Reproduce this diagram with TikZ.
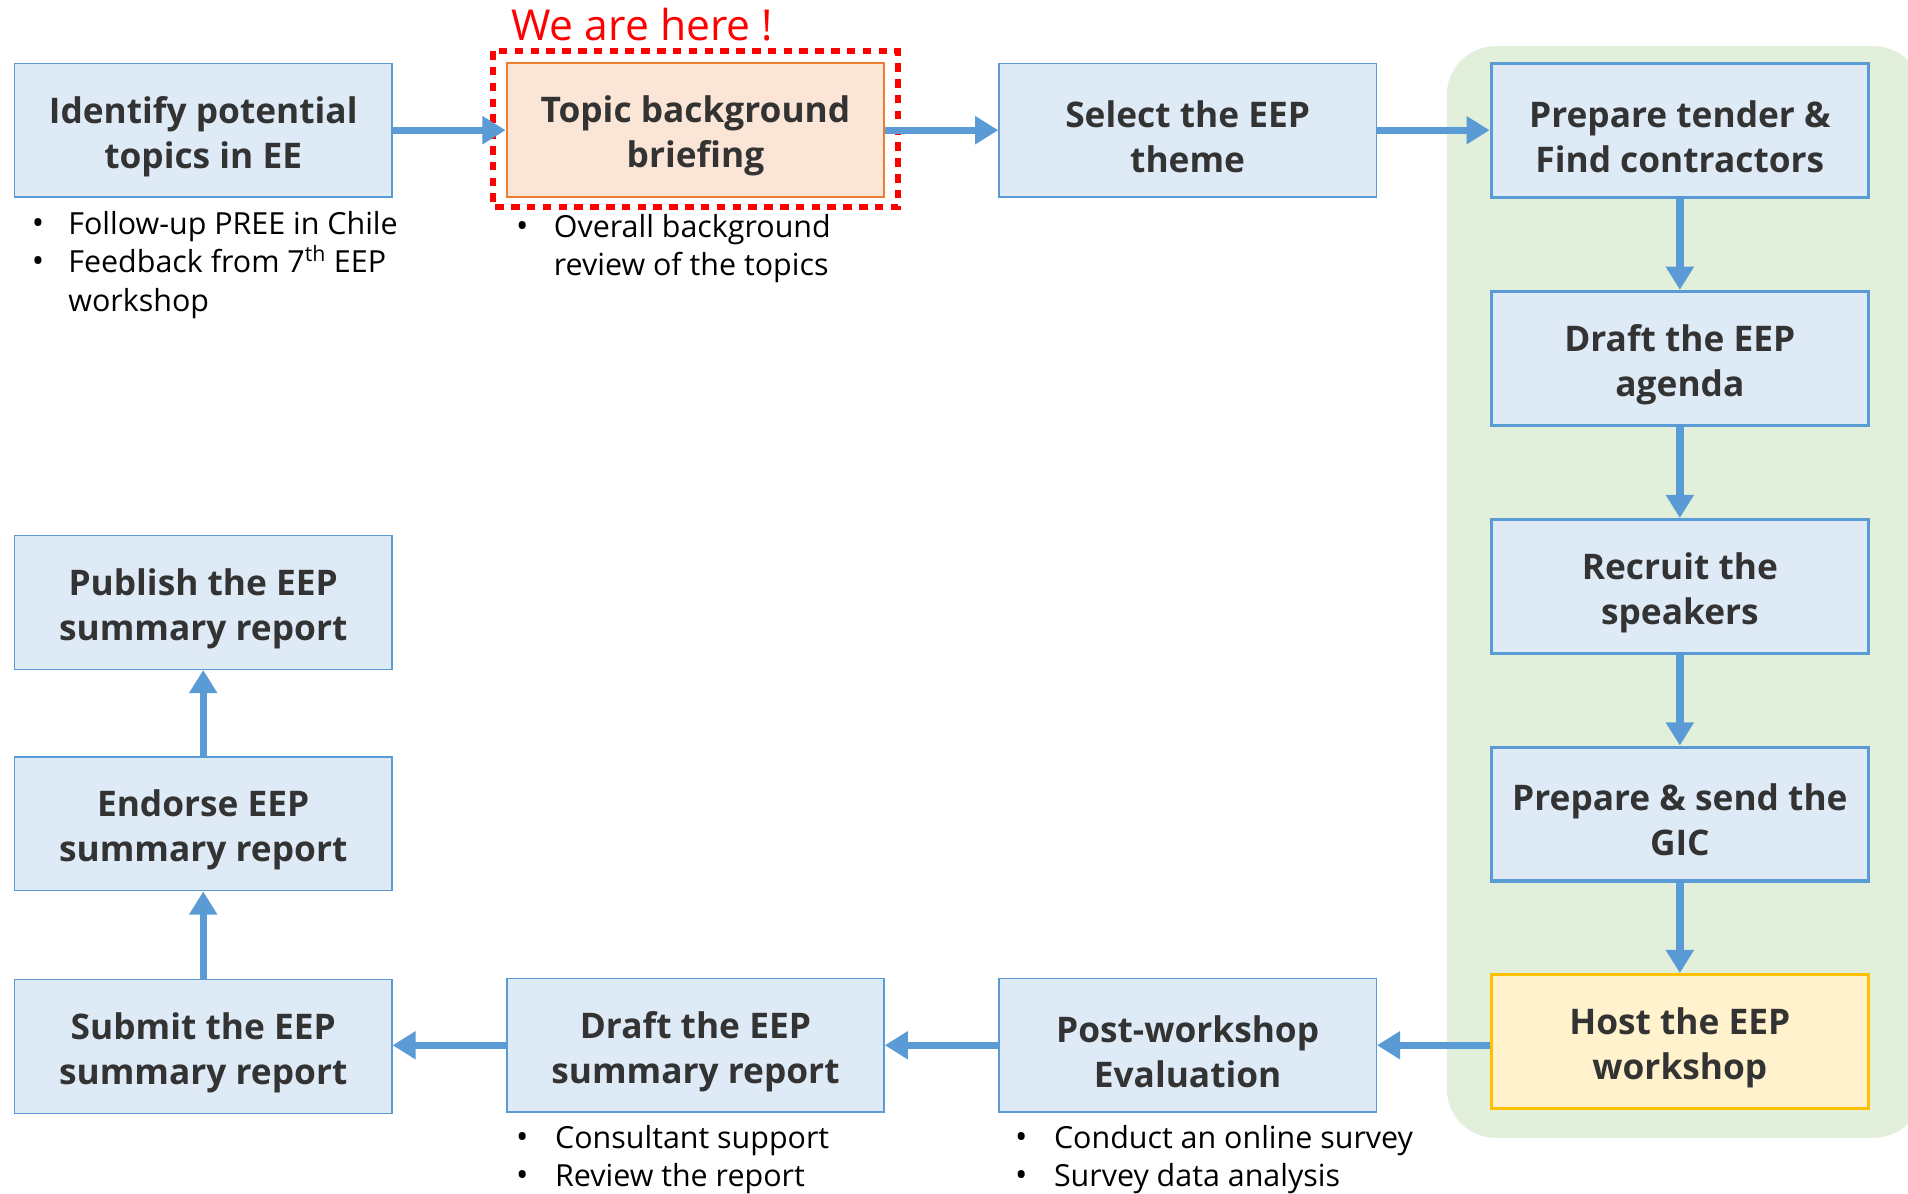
\documentclass[tikz,border=0pt]{standalone}
\usepackage{fontspec}
\setmainfont{Open Sans}
\usetikzlibrary{arrows.meta}
\definecolor{bluefill}{HTML}{DEEBF7}
\definecolor{blueline}{HTML}{5B9BD5}
\definecolor{orangefill}{HTML}{FBE5D6}
\definecolor{orangeline}{HTML}{ED7D31}
\definecolor{yellowfill}{HTML}{FFF2CC}
\definecolor{yellowline}{HTML}{FFC000}
\definecolor{greenbg}{HTML}{E2EFDA}
\definecolor{txtgray}{HTML}{333333}
\definecolor{redmark}{HTML}{FF0000}
\begin{document}
\begin{tikzpicture}[x=1pt,y=-1pt,
  stepbox/.style={rectangle, minimum width=310pt, minimum height=110pt, inner sep=0pt,
    fill=bluefill, draw=blueline, line width=1.2pt},
  greenbox/.style={stepbox, line width=2.6pt},
  boxtext/.style={inner sep=0pt, align=center, text=txtgray,
    font=\fontsize{29}{37}\selectfont\bfseries},
  arr/.style={draw=blueline, line width=6pt, -{Triangle[length=19pt,width=22pt]}},
  bul/.style={anchor=base west, inner sep=0pt, font=\fontsize{25}{31}\selectfont, text=black},
  bdot/.style={anchor=base west, inner sep=0pt, font=\fontsize{27}{31}\selectfont, text=black}
]
\clip (0,0) rectangle (1568,981);
\path[use as bounding box] (0,0) rectangle (1568,981);
\fill[white] (0,0) rectangle (1568,981);

% green region
\fill[greenbg, rounded corners=40pt] (1189,38) rectangle (1580,935);

% boxes
\node[stepbox] (ident) at (167,107) {};
\node[stepbox, fill=orangefill, draw=orangeline, line width=2pt] (topic) at (571.5,107) {};
\node[stepbox] (select) at (976,107) {};
\node[greenbox] (tender) at (1380.5,107) {};
\node[greenbox] (agenda) at (1380.5,294.5) {};
\node[greenbox] (recruit) at (1380.5,482) {};
\node[greenbox] (gic) at (1380.5,669) {};
\node[greenbox, fill=yellowfill, draw=yellowline] (host) at (1380.5,856) {};
\node[stepbox] (post) at (976,859) {};
\node[stepbox] (draftsum) at (571.5,859) {};
\node[stepbox] (submit) at (167,860) {};
\node[stepbox] (endorse) at (167,677) {};
\node[stepbox] (publish) at (167,495) {};

% box texts
\node[boxtext] (identt) at ([yshift=-5pt]ident.center) {Identify potential\\topics in EE};
\node[boxtext] (topict) at ([yshift=-5pt]topic.center) {Topic background\\briefing};
\node[boxtext] (selectt) at ([yshift=-5pt]select.center) {Select the EEP\\theme};
\node[boxtext] (tendert) at ([yshift=-5pt]tender.center) {Prepare tender \&\\Find contractors};
\node[boxtext] (agendat) at ([yshift=-5pt]agenda.center) {Draft the EEP\\agenda};
\node[boxtext] (recruitt) at ([yshift=-5pt]recruit.center) {Recruit the\\speakers};
\node[boxtext] (gict) at ([yshift=-5pt]gic.center) {Prepare \& send the\\GIC};
\node[boxtext] (hostt) at ([yshift=-5pt]host.center) {Host the EEP\\workshop};
\node[boxtext] (postt) at ([yshift=-5pt]post.center) {Post-workshop\\Evaluation};
\node[boxtext] (draftsumt) at ([yshift=-5pt]draftsum.center) {Draft the EEP\\summary report};
\node[boxtext] (submitt) at ([yshift=-5pt]submit.center) {Submit the EEP\\summary report};
\node[boxtext] (endorset) at ([yshift=-5pt]endorse.center) {Endorse EEP\\summary report};
\node[boxtext] (publisht) at ([yshift=-5pt]publish.center) {Publish the EEP\\summary report};

% red dotted marker
\draw[redmark, line width=5pt, dash pattern=on 7pt off 6pt] (405,42) rectangle (738,170);
\node[anchor=base west, inner sep=0pt, text=redmark, font=\fontsize{35}{40}\selectfont] (here) at (420,33) {We are here !};

% arrows
\draw[arr] (ident.east) -- (topic.west);
\draw[arr] (topic.east) -- (select.west);
\draw[arr] (select.east) -- (tender.west);
\draw[arr] (tender.south) -- (agenda.north);
\draw[arr] (agenda.south) -- (recruit.north);
\draw[arr] (recruit.south) -- (gic.north);
\draw[arr] (gic.south) -- (host.north);
\draw[arr] (post.east -| host.west) -- (post.east);
\draw[arr] (post.west) -- (draftsum.east);
\draw[arr] (draftsum.west) -- (draftsum.west -| submit.east);
\draw[arr] (submit.north) -- (endorse.south);
\draw[arr] (endorse.north) -- (publish.south);

% bullet texts
\node[bdot] (d1) at (26,193) {\textbullet};
\node[bul] (t1) at (56,193) {Follow-up PREE in Chile};
\node[bdot] (d2) at (26,224) {\textbullet};
\node[bul] (t2) at (56,224) {Feedback from 7\textsuperscript{th} EEP};
\node[bul] (t3) at (56,256) {workshop};

\node[bdot] (d4) at (424,195) {\textbullet};
\node[bul] (t4) at (455,195) {Overall background};
\node[bul] (t5) at (455,226) {review of the topics};

\node[bdot] (d6) at (424,944) {\textbullet};
\node[bul] (t6) at (456,944) {Consultant support};
\node[bdot] (d7) at (424,975) {\textbullet};
\node[bul] (t7) at (456,975) {Review the report};

\node[bdot] (d8) at (834,944) {\textbullet};
\node[bul] (t8) at (866,944) {Conduct an online survey};
\node[bdot] (d9) at (834,975) {\textbullet};
\node[bul] (t9) at (866,975) {Survey data analysis};
\end{tikzpicture}
\end{document}
